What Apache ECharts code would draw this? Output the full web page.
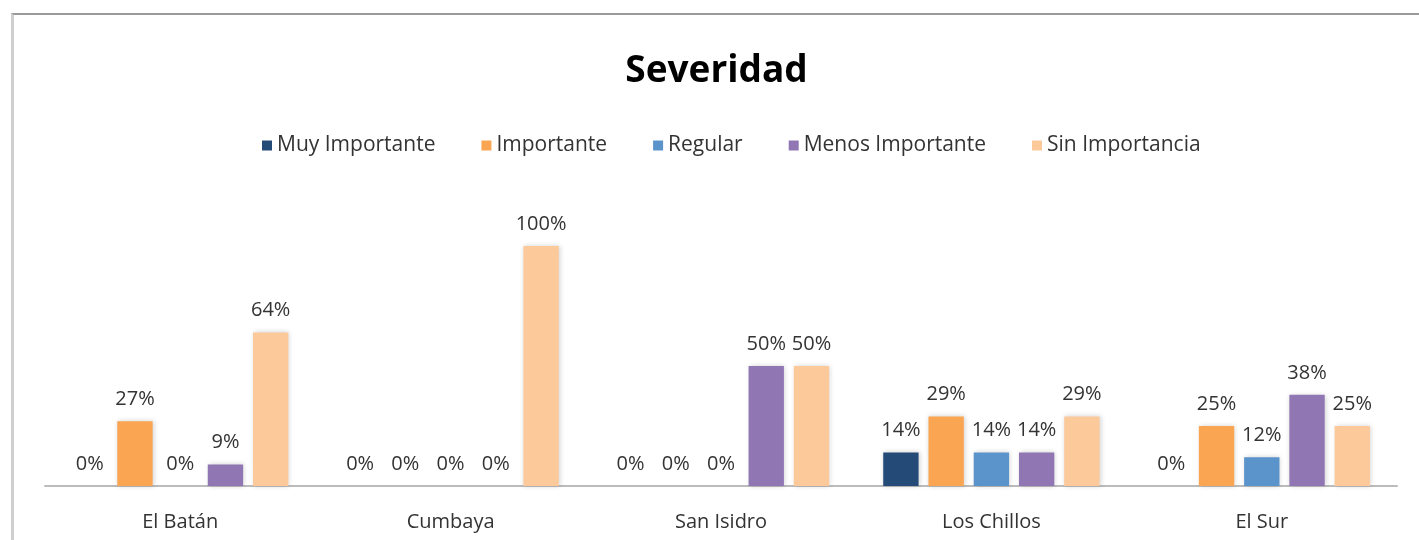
<!DOCTYPE html>
<html>
<head>
<meta charset="utf-8">
<script src="https://cdn.jsdelivr.net/npm/echarts@6/dist/echarts.min.js"></script>
<style>
  html, body { margin: 0; padding: 0; background: #fff; }
  #frame {
    position: absolute; left: 11px; top: 13px; right: 0; bottom: 0;
    border-top: 2px solid #9a9a9a; border-left: 3px solid #cfcfcf;
  }
  #main { width: 100%; height: 100%; }
</style>
</head>
<body>
<div id="frame"><div id="main"></div></div>
<script>
  // categorias y series
  var categories = ['El Batán', 'Cumbaya', 'San Isidro', 'Los Chillos', 'El Sur'];
  var seriesNames = ['Muy Importante', 'Importante', 'Regular', 'Menos Importante', 'Sin Importancia'];
  var muyImportante = [0, 0, 0, 14, 0];
  var importante = [27, 0, 0, 29, 25];
  var regular = [0, 0, 0, 14, 12];
  var menosImportante = [9, 0, 50, 14, 38];
  var sinImportancia = [64, 100, 50, 29, 25];
  var colors = ['#244a78', '#f9a552', '#5b93cb', '#9077b3', '#fbc99a'];

  var values = [muyImportante, importante, regular, menosImportante, sinImportancia];
  var font = '"Open Sans", sans-serif';

  var myChart = echarts.init(document.getElementById('main'));
  myChart.setOption({
    animation: false,
    color: colors,
    title: {
      text: 'Severidad',
      left: 'center',
      top: 33,
      textStyle: { fontFamily: font, fontSize: 37, fontWeight: 'bold', color: '#000' }
    },
    legend: {
      top: 115,
      left: 243,
      itemWidth: 10,
      itemHeight: 10,
      itemGap: 46,
      icon: 'rect',
      data: seriesNames,
      textStyle: { fontFamily: font, fontSize: 21, color: '#333' }
    },
    grid: { left: 31, right: 22, top: 231, bottom: 54 },
    xAxis: {
      type: 'category',
      data: categories,
      axisLine: { lineStyle: { color: '#bcbcbc', width: 2 } },
      axisTick: { show: false },
      axisLabel: { fontFamily: font, fontSize: 20, color: '#333', margin: 26 }
    },
    yAxis: {
      type: 'value',
      min: 0,
      max: 100,
      show: false,
      splitLine: { show: false }
    },
    series: seriesNames.map(function (name, i) {
      return {
        name: name,
        type: 'bar',
        data: values[i],
        barGap: '28%',
        barCategoryGap: '20%',
        itemStyle: { shadowColor: 'rgba(0,0,0,0.18)', shadowBlur: 5, shadowOffsetX: 1 },
        label: {
          show: true,
          position: 'top',
          distance: 12,
          formatter: '{c}%',
          fontFamily: font,
          fontSize: 20,
          color: '#333'
        }
      };
    })
  });
  window.addEventListener('resize', function () { myChart.resize(); });
</script>
</body>
</html>
